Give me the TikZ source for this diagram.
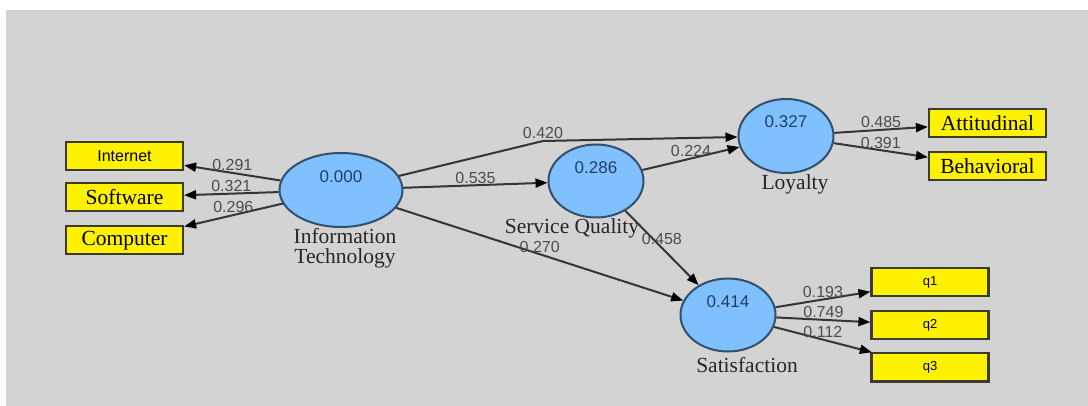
\documentclass[tikz,border=0pt]{standalone}
\usepackage{fontspec}
\setmainfont{Liberation Serif}
\setsansfont{Liberation Sans}
\usetikzlibrary{
	arrows.meta,
	positioning,
	shapes.geometric,
}
\definecolor{MyGrey}{HTML}{D3D3D3}
\definecolor{MyBlue}{HTML}{80C0FF}
\definecolor{MyBorder}{HTML}{30506E}
\definecolor{MyValue}{HTML}{1F3F6A}
\definecolor{MyLine}{HTML}{353535}
\definecolor{MyFrame}{HTML}{3C3C28}

\begin{document}
\begin{tikzpicture}[x=1pt,y=-1pt,
				latent/.style={ellipse,draw=MyBorder,line width=2pt,fill=MyBlue,inner sep=0pt},
				indicator/.style={rectangle,draw=MyFrame,line width=2.2pt,fill=yellow,minimum width=117pt,minimum height=28pt,inner sep=0pt},
				indserif/.style={indicator,font=\fontsize{21.5}{24}\selectfont},
				indsans/.style={indicator,font=\sffamily\fontsize{16}{18}\selectfont},
				indsmall/.style={indicator,font=\sffamily\fontsize{13}{15}\selectfont},
				value/.style={text=MyValue,font=\sffamily\fontsize{17}{19}\selectfont,inner sep=0pt},
				caption/.style={align=center,inner sep=0pt,font=\fontsize{21.5}{20}\selectfont,text=black!85},
				coef/.style={text=black!70,font=\sffamily\fontsize{16}{18}\selectfont,inner sep=1pt},
				path/.style={draw=MyLine,line width=2pt,-{Triangle[length=12pt,width=9pt,color=black]}},
			]
			\useasboundingbox (0,0) rectangle (1088,406);
			\fill[MyGrey] (6,10) rectangle (1088,406);

			% latent variables
			\node (it) [latent,minimum width=123pt,minimum height=74pt] at (341,190) {};
			\node (sq) [latent,minimum width=95pt,minimum height=73pt] at (596,181) {};
			\node (loy) [latent,minimum width=95pt,minimum height=74pt] at (786,136) {};
			\node (sat) [latent,minimum width=95pt,minimum height=73pt] at (728,315) {};

			\node (itval) [value] at ([yshift=13pt]it.center) {0.000};
			\node (sqval) [value] at ([yshift=13pt]sq.center) {0.286};
			\node (loyval) [value] at ([yshift=14pt]loy.center) {0.327};
			\node (satval) [value] at ([yshift=13pt]sat.center) {0.414};

			\node (itcap) [caption,below=0pt of it,xshift=4pt] {Information\\Technology};
			\node (sqcap) [caption,below=0pt of sq,xshift=-24pt] {Service Quality};
			\node (loycap) [caption,below=0pt of loy,xshift=9pt] {Loyalty};
			\node (satcap) [caption,below=5pt of sat,xshift=19pt] {Satisfaction};

			% indicators
			\node (internet) [indsans] at (124.5,156) {Internet};
			\node (software) [indserif,below=11pt of internet] {Software};
			\node (computer) [indserif,below=13pt of software] {Computer};
			\node (attitudinal) [indserif] at (987.5,123) {Attitudinal};
			\node (behavioral) [indserif,below=13pt of attitudinal] {Behavioral};
			\node (q1) [indsmall] at (930,282) {q1};
			\node (q2) [indsmall,below=13pt of q1] {q2};
			\node (q3) [indsmall,below=12pt of q2] {q3};

			\coordinate (bend) at (543,141);

			% paths
			\draw[path] (it) -- node[coef,above] {0.291} (internet);
			\draw[path] (it) -- node[coef,above] {0.321} (software);
			\draw[path] (it) -- node[coef,above] {0.296} (computer);
			\draw[path] (it) -- (bend) node[coef,above] {0.420} -- (loy);
			\draw[path] (it) -- node[coef,above] {0.535} (sq);
			\draw[path] (it) -- node[coef,above] {0.270} (sat);
			\draw[path] (sq) -- node[coef,above] {0.224} (loy);
			\draw[path] (sq) -- node[coef,pos=0.43,xshift=5pt,yshift=4pt] {0.458} (sat);
			\draw[path] (loy) -- node[coef,above] {0.485} (attitudinal);
			\draw[path] (loy) -- node[coef,above] {0.391} (behavioral);
			\draw[path] (sat) -- node[coef,above] {0.193} (q1);
			\draw[path] (sat) -- node[coef,above] {0.749} (q2);
			\draw[path] (sat) -- node[coef,above] {0.112} (q3);
		\end{tikzpicture}
\end{document}
